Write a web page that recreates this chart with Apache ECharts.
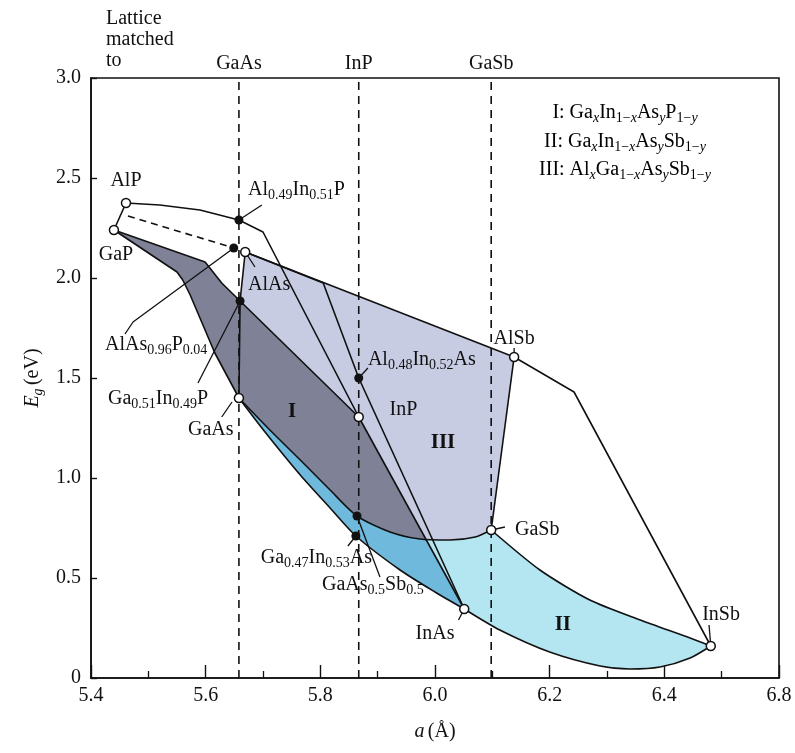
<!DOCTYPE html>
<html><head><meta charset="utf-8">
<script src="https://cdn.jsdelivr.net/npm/echarts@6/dist/echarts.min.js"></script>
<style>html,body{margin:0;padding:0;background:#fff}#c{width:795px;height:753px}</style>
</head><body><div id="c"></div>
<script>
// ---------- tick labels ----------
const xTickLabels = ['5.4','5.6','5.8','6.0','6.2','6.4','6.8'];
const yTickLabels = ['0','0.5','1.0','1.5','2.0','2.5','3.0'];

// ---------- binary compounds [a (Å), Eg (eV)] ----------
const binaryNames = ['AlP','GaP','AlAs','GaAs','InP','AlSb','GaSb','InAs','InSb'];
const binaryA  = [5.461, 5.440, 5.669, 5.658, 5.867, 6.138, 6.098, 6.051, 6.481];
const binaryEg = [2.375, 2.24, 2.13, 1.40, 1.305, 1.605, 0.74, 0.345, 0.16];

// ---------- lattice-matched alloys (filled dots) ----------
const alloyNames = ['Al0.49In0.51P','AlAs0.96P0.04','Ga0.51In0.49P','Al0.48In0.52As','GaAs0.5Sb0.5','Ga0.47In0.53As'];
const alloyA  = [5.658, 5.649, 5.660, 5.867, 5.864, 5.862];
const alloyEg = [2.29, 2.15, 1.885, 1.50, 0.81, 0.71];

// ---------- substrates for lattice matching ----------
const substrateNames = ['GaAs','InP','GaSb'];

// ---------- ternary curves [a, Eg] ----------
const curveAlPGaP   = [[5.461,2.375],[5.440,2.24]];
const curveAlInP    = [[5.461,2.375],[5.520,2.365],[5.590,2.34],[5.658,2.29],[5.700,2.23],[5.867,1.305]];
const curveGaInP    = [[5.440,2.24],[5.599,2.08],[5.628,1.975],[5.660,1.885],[5.867,1.305]];
const curveGaAsP    = [[5.440,2.24],[5.550,2.03],[5.560,1.99],[5.573,1.915],[5.616,1.625],[5.658,1.40]];
const curveAlGaAs   = [[5.669,2.13],[5.660,1.885],[5.658,1.40]];
const curveAlAsP    = [[5.4645,2.31],[5.649,2.15]];
const curveAlAsSb   = [[5.669,2.13],[6.138,1.605]];
const curveAlInAs   = [[5.669,2.13],[5.805,1.975],[5.867,1.50],[6.051,0.345]];
const curveAlInSb   = [[6.138,1.605],[6.2425,1.43],[6.481,0.16]];
const curveAlGaSb   = [[6.138,1.605],[6.098,0.74]];
const curveGaInSb   = [[6.098,0.74],[6.183,0.54],[6.270,0.39],[6.358,0.29],[6.445,0.20],[6.481,0.16]];
const curveInAsSb   = [[6.051,0.345],[6.113,0.24],[6.200,0.13],[6.288,0.06],[6.340,0.045],[6.3925,0.055],[6.445,0.10],[6.481,0.16]];
const curveGaInAs   = [[5.658,1.40],[5.7035,1.23],[5.765,1.015],[5.817,0.85],[5.862,0.71],[5.939,0.54],[6.000,0.43],[6.051,0.345]];
const curveGaAsSb   = [[5.658,1.40],[5.712,1.24],[5.765,1.09],[5.817,0.94],[5.864,0.81],[5.9215,0.73],[5.974,0.695],[6.026,0.69],[6.070,0.705],[6.098,0.74]];
const curveInAsP    = [[5.867,1.305],[6.051,0.345]];

// ---------- build region outlines from the curves ----------
const rev = a => a.slice().reverse();
const regionIII = [].concat(curveAlAsSb, curveAlGaSb, rev(curveGaAsSb), rev(curveAlGaAs));
const regionI   = [].concat(curveGaInP, curveInAsP, rev(curveGaInAs), rev(curveGaAsP));
const regionII  = [].concat(curveGaAsSb, curveGaInSb, rev(curveInAsSb), rev(curveGaInAs));
function segX(p1,p2,p3,p4){
  const d=(p2[0]-p1[0])*(p4[1]-p3[1])-(p2[1]-p1[1])*(p4[0]-p3[0]);
  if(!d) return null;
  const t=((p3[0]-p1[0])*(p4[1]-p3[1])-(p3[1]-p1[1])*(p4[0]-p3[0]))/d;
  const u=((p3[0]-p1[0])*(p2[1]-p1[1])-(p3[1]-p1[1])*(p2[0]-p1[0]))/d;
  return (t>=0&&t<=1&&u>=0&&u<=1)?[p1[0]+t*(p2[0]-p1[0]),p1[1]+t*(p2[1]-p1[1])]:null;
}
let overlap = [];
for (let i=0;i<curveGaAsSb.length-1;i++){
  overlap.push(curveGaAsSb[i]);
  const X = segX(curveGaAsSb[i],curveGaAsSb[i+1],curveInAsP[0],curveInAsP[1]);
  if (X){ overlap.push(X); break; }
}
overlap = overlap.concat(rev(curveGaInAs));

// ---------- styling ----------
const SERIF = '"Liberation Serif","Times New Roman",serif';
const INK = '#111111';
const rich = {
  n:  {fontFamily:SERIF, fontSize:20, color:INK, lineHeight:24},
  s:  {fontFamily:SERIF, fontSize:14, color:INK, lineHeight:10, verticalAlign:'bottom'},
  si: {fontFamily:SERIF, fontSize:14, color:INK, lineHeight:10, verticalAlign:'bottom', fontStyle:'italic'},
  i:  {fontFamily:SERIF, fontSize:20, color:INK, lineHeight:24, fontStyle:'italic'},
  b:  {fontFamily:SERIF, fontSize:21, color:INK, lineHeight:24, fontWeight:'bold'}
};

const labelLayout = [
  ['{n|AlP}', 5.461, 2.485, 'center'],
  ['{n|GaP}', 5.4436, 2.115, 'center'],
  ['{n|Al}{s|0.49}{n|In}{s|0.51}{n|P}', 5.674, 2.44, 'left'],
  ['{n|AlAs}', 5.674, 1.965, 'left'],
  ['{n|AlAs}{s|0.96}{n|P}{s|0.04}', 5.4244, 1.665, 'left'],
  ['{n|Ga}{s|0.51}{n|In}{s|0.49}{n|P}', 5.4297, 1.395, 'left'],
  ['{n|GaAs}', 5.609, 1.24, 'center'],
  ['{b|I}', 5.7506, 1.33, 'center'],
  ['{n|InP}', 5.945, 1.34, 'center'],
  ['{b|III}', 6.014, 1.175, 'center'],
  ['{n|Al}{s|0.48}{n|In}{s|0.52}{n|As}', 5.883, 1.59, 'left'],
  ['{n|AlSb}', 6.138, 1.695, 'center'],
  ['{n|GaSb}', 6.1396, 0.74, 'left'],
  ['{n|InAs}', 6.0, 0.22, 'center'],
  ['{n|InSb}', 6.499, 0.315, 'center'],
  ['{b|II}', 6.223, 0.265, 'center'],
  ['{n|Ga}{s|0.47}{n|In}{s|0.53}{n|As}', 5.890, 0.60, 'right'],
  ['{n|GaAs}{s|0.5}{n|Sb}{s|0.5}', 5.803, 0.465, 'left']
];
const leaderLines = [
  [[5.658,2.29],[5.698,2.365]],
  [[5.669,2.13],[5.686,2.055]],
  [[5.649,2.15],[5.4733,1.78],[5.4593,1.72]],
  [[5.660,1.885],[5.5866,1.475]],
  [[5.646,1.38],[5.628,1.305]],
  [[5.867,1.50],[5.883,1.55]],
  [[6.138,1.605],[6.138,1.65]],
  [[6.098,0.74],[6.122,0.755]],
  [[6.051,0.345],[6.041,0.29]],
  [[6.481,0.16],[6.478,0.265]],
  [[5.862,0.71],[5.848,0.66]],
  [[5.864,0.81],[5.904,0.505]]
];

function poly(points, color, z){
  return {type:'custom', coordinateSystem:'cartesian2d', z:z, silent:true, clip:true,
    data:[[points[0][0],points[0][1]]],
    renderItem:(p,api)=>({type:'polygon', shape:{points:points.map(q=>api.coord(q))}, style:{fill:color}})};
}
function line(data, dashed, smooth){
  return {type:'line', data:data, symbol:'none', silent:true, z:5, animation:false,
    smooth: smooth ? 0.25 : false,
    lineStyle:{color:INK, width:1.6, opacity:1, type: dashed ? [7,5] : 'solid'}};
}

const series = [
  poly(regionIII, '#c7cce3', 1),
  poly(regionI,   '#7f8197', 2),
  poly(regionII,  '#b3e6f1', 3),
  poly(overlap,   '#6fb9dc', 3)
];
[curveAlPGaP,curveAlInP,curveGaInP,curveGaAsP,curveAlGaAs,curveAlAsSb,curveAlInAs,curveAlInSb,
 curveAlGaSb,curveInAsP].forEach(c=>series.push(line(c,false,false)));
[curveGaInSb,curveInAsSb,curveGaInAs,curveGaAsSb].forEach(c=>series.push(line(c,false,true)));
series.push(line(curveAlAsP,true,false));
leaderLines.forEach(c=>series.push({type:'line', data:c, symbol:'none', silent:true, z:5, lineStyle:{color:INK,width:1.3}}));
// vertical lattice-match lines
substrateNames.forEach(nm=>{
  const a = binaryA[binaryNames.indexOf(nm)];
  series.push({type:'line', data:[[a,0],[a,3]], symbol:'none', silent:true, z:6,
    lineStyle:{color:INK, width:1.6, type:[8,6]}});
});
series.push({type:'scatter', z:8, symbolSize:9, silent:true,
  itemStyle:{color:'#fff', borderColor:INK, borderWidth:1.5, opacity:1},
  data: binaryA.map((a,i)=>[a,binaryEg[i]])});
series.push({type:'scatter', z:8, symbolSize:9, silent:true,
  itemStyle:{color:INK, opacity:1},
  data: alloyA.map((a,i)=>[a,alloyEg[i]])});
const lblBase = {show:true, color:INK, textBorderWidth:0, opacity:1};
// substrate labels above frame
series.push({type:'scatter', z:9, symbolSize:0, silent:true, clip:false, itemStyle:{opacity:1},
  data: substrateNames.map(nm=>({value:[binaryA[binaryNames.indexOf(nm)],3.0],
    label:Object.assign({}, lblBase, {position:'top', distance:2, formatter:'{n|'+nm+'}', rich:rich})}))});
// annotations
series.push({type:'scatter', z:9, symbolSize:0, silent:true, clip:false, itemStyle:{opacity:1},
  data: labelLayout.map(l=>({value:[l[1],l[2]],
    label:Object.assign({}, lblBase, {position:'inside', align:l[3], verticalAlign:'middle', formatter:l[0], rich:rich})}))});

const chart = echarts.init(document.getElementById('c'), null, {renderer:'canvas'});
chart.setOption({
  animation:false,
  backgroundColor:'#fff',
  grid:{left:91, right:16, top:78, bottom:75, show:true, borderColor:INK, borderWidth:1.6, backgroundColor:'transparent'},
  xAxis:{type:'value', min:5.4, max:6.6, interval:0.2,
    name:'{i|a} {n|(Å)}', nameLocation:'middle', nameGap:42, nameTextStyle:{rich:rich},
    axisLine:{show:true, onZero:false, lineStyle:{color:INK, width:1.6}},
    axisTick:{show:true, inside:true, length:13, lineStyle:{color:INK, width:1.4}},
    minorTick:{show:true, splitNumber:2, length:7, lineStyle:{color:INK, width:1.3}},
    splitLine:{show:false},
    axisLabel:{margin:8, fontFamily:SERIF, fontSize:20, color:INK,
      formatter:v=>xTickLabels[Math.round((v-5.4)/0.2)]}},
  yAxis:{type:'value', min:0, max:3, interval:0.5,
    name:'{i|E}{si|g} {n|(eV)}', nameLocation:'middle', nameGap:42, nameTextStyle:{rich:rich},
    axisLine:{show:true, lineStyle:{color:INK, width:1.6}},
    axisTick:{show:true, inside:true, length:6, lineStyle:{color:INK, width:1.4}},
    splitLine:{show:false},
    axisLabel:{margin:10, fontFamily:SERIF, fontSize:20, color:INK,
      formatter:v=>yTickLabels[Math.round(v/0.5)]}},
  graphic:[
    {type:'text', x:106, y:8, style:{text:'Lattice\nmatched\nto', font:'20px '+SERIF, fill:INK, lineHeight:21}},
    {type:'text', x:625, y:113, style:{text:'{n|I: Ga}{si|x}{n|In}{s|1−}{si|x}{n|As}{si|y}{n|P}{s|1−}{si|y}', rich:rich, align:'center', verticalAlign:'middle', textAlign:'center', textVerticalAlign:'middle'}},
    {type:'text', x:625, y:142, style:{text:'{n|II: Ga}{si|x}{n|In}{s|1−}{si|x}{n|As}{si|y}{n|Sb}{s|1−}{si|y}', rich:rich, align:'center', verticalAlign:'middle', textAlign:'center', textVerticalAlign:'middle'}},
    {type:'text', x:625, y:170, style:{text:'{n|III: Al}{si|x}{n|Ga}{s|1−}{si|x}{n|As}{si|y}{n|Sb}{s|1−}{si|y}', rich:rich, align:'center', verticalAlign:'middle', textAlign:'center', textVerticalAlign:'middle'}}
  ],
  series:series
});
</script>
</body></html>
